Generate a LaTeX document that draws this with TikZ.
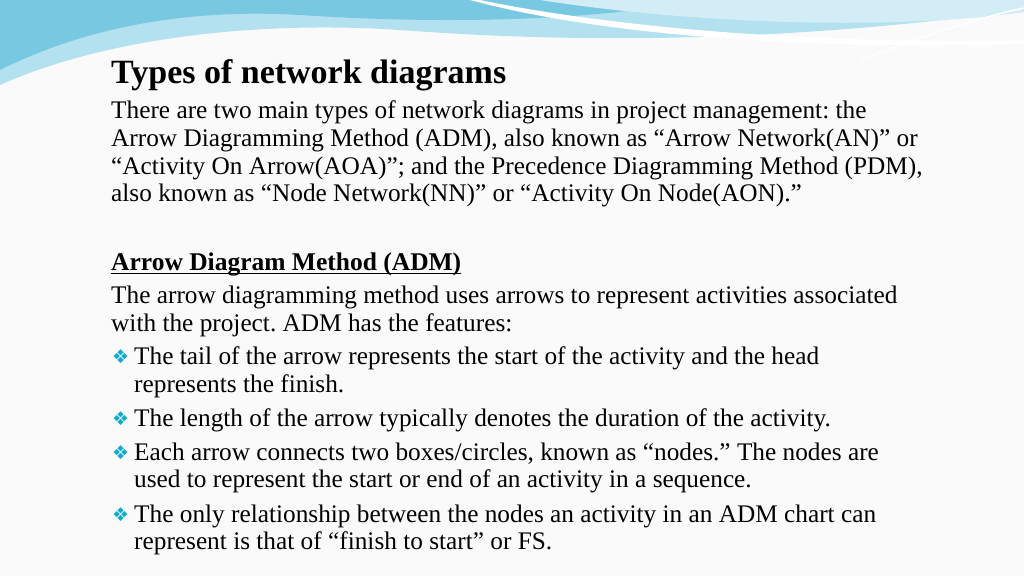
\documentclass[tikz,border=0pt]{standalone}
\usepackage{fontspec}
\setmainfont{Liberation Serif}
\newfontfamily\dejavufam{DejaVu Sans}
\definecolor{bul}{RGB}{20,170,200}
\definecolor{wave1}{RGB}{120,200,225}
\definecolor{wave2}{RGB}{180,225,240}
\begin{document}
\frenchspacing
\begin{tikzpicture}[x=1pt,y=-1pt,
  body/.style={anchor=base west,inner sep=0,font=\fontsize{25.3}{28}\selectfont},
  bl/.style={anchor=base west,inner sep=0,font=\dejavufam\fontsize{19}{20}\selectfont,text=bul}]
\useasboundingbox (0,0) rectangle (1024,576);
\fill[white!96!gray] (0,0) rectangle (1024,576);
% top waves
\fill[wave2] (0,0) -- (1024,0) -- (1024,10) .. controls (800,40) and (600,45) .. (400,30) .. controls (250,20) and (100,40) .. (0,85) -- cycle;
\fill[wave1] (0,0) -- (700,0) .. controls (600,20) and (450,25) .. (300,15) .. controls (180,8) and (80,30) .. (0,70) -- cycle;
\fill[white] (480,0) .. controls (600,25) and (800,45) .. (1024,40) -- (1024,44) .. controls (800,50) and (600,35) .. (470,0) -- cycle;
\fill[wave2!60!white] (540,0) -- (1024,0) -- (1024,12) .. controls (900,30) and (700,25) .. (540,0) -- cycle;
\draw[white,line width=1.5] (860,60) .. controls (940,30) and (990,15) .. (1024,8);
\node[anchor=base west,inner sep=0,font=\bfseries\fontsize{34}{38}\selectfont] (t) at (111,83) {Types of network diagrams};
\node[body] (l1) at (111,118) {There are two main types of network diagrams in project management: the};
\node[body] (l2) at (111,146) {Arrow Diagramming Method (ADM), also known as “Arrow Network(AN)” or};
\node[body] (l3) at (111,174) {“Activity On Arrow(AOA)”; and the Precedence Diagramming Method (PDM),};
\node[body] (l4) at (111,201) {also known as “Node Network(NN)” or “Activity On Node(AON).”};
\node[anchor=base west,inner sep=0,font=\bfseries\fontsize{25.5}{28}\selectfont] (h) at (111,270) {Arrow Diagram Method (ADM)};
\draw[line width=1] ([yshift=-3]h.base west) -- ([yshift=-3]h.base east);
\node[body] (m1) at (111,303) {The arrow diagramming method uses arrows to represent activities associated};
\node[body] (m2) at (111,331) {with the project. ADM has the features:};
\foreach \y/\t in {364/{The tail of the arrow represents the start of the activity and the head},
  426/{The length of the arrow typically denotes the duration of the activity.},
  460/{Each arrow connects two boxes/circles, known as “nodes.” The nodes are},
  522/{The only relationship between the nodes an activity in an ADM chart can}}{
  \node[bl] at (112,\y-1) {❖};
  \node[body] at (134,\y) {\t};}
\node[body] (c1) at (134,392) {represents the finish.};
\node[body] (c2) at (134,487) {used to represent the start or end of an activity in a sequence.};
\node[body] (c3) at (134,549) {represent is that of “finish to start” or FS.};
\end{tikzpicture}
\end{document}
